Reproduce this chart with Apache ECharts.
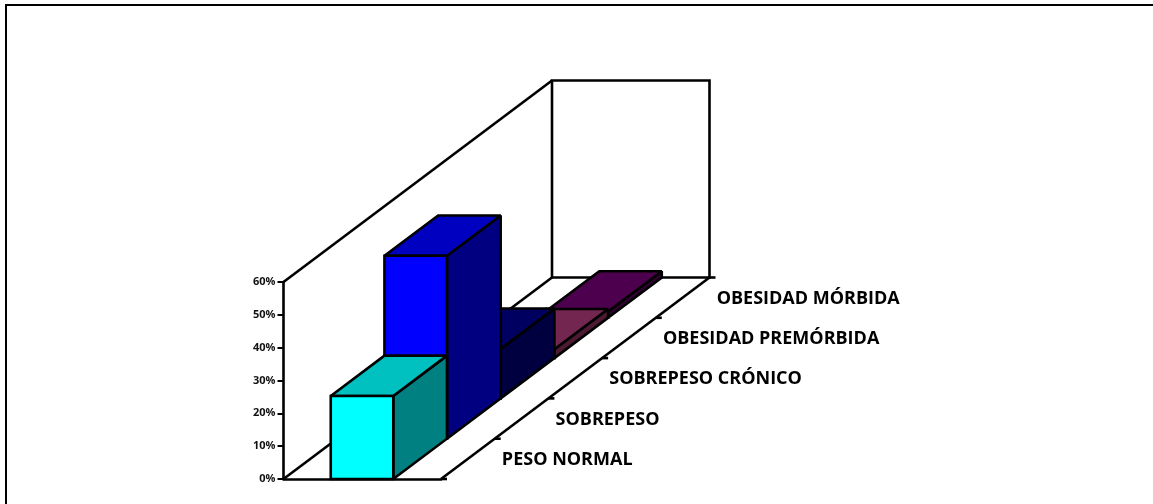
<!DOCTYPE html>
<html>
<head>
<meta charset="utf-8">
<style>html,body{margin:0;padding:0;background:#fff}#chart{width:1153px;height:504px}</style>
<script src="https://cdn.jsdelivr.net/npm/echarts@6/dist/echarts.min.js"></script>
</head>
<body>
<div id="chart"></div>
<script>
// Share of patients per weight class (percent)
const categories = ['PESO NORMAL', 'SOBREPESO', 'SOBREPESO CRÓNICO', 'OBESIDAD PREMÓRBIDA', 'OBESIDAD MÓRBIDA'];
const shares = [25.3, 55.7, 15.1, 2.7, 1.9];
const frontColors = ['#00ffff', '#0000ff', '#000080', '#993366', '#660066'];
const topColors = ['#00c0c0', '#0000c0', '#000060', '#732650', '#4d004d'];
const sideColors = ['#008080', '#000080', '#000040', '#4d1a33', '#330033'];

// Oblique projection: one category step moves this far on screen
const stepX = 53.7, stepY = -40.3;
const depthSteps = categories.length;
const barStart = 0.3, barEnd = 0.697;
const yMax = 60;
const ink = {stroke: '#000', lineWidth: 2.6, lineJoin: 'miter', miterLimit: 2};

function projector(api) {
  return function (x, v, d) {
    const p = api.coord([x, v]);
    return [p[0] + d * stepX, p[1] + d * stepY];
  };
}
function poly(points, fill) {
  return {type: 'polygon', shape: {points}, style: Object.assign({fill}, ink)};
}
function line(a, b) {
  return {type: 'line', shape: {x1: a[0], y1: a[1], x2: b[0], y2: b[1]}, style: Object.assign({fill: null}, ink)};
}

// Side wall, floor, back wall and the ticks of the depth axis
function renderFrame(params, api) {
  const P = projector(api);
  const children = [
    poly([P(0, 0, depthSteps), P(1, 0, depthSteps), P(1, yMax, depthSteps), P(0, yMax, depthSteps)], '#fff'),
    line(P(0, yMax, 0), P(0, yMax, depthSteps)),
    line(P(0, 0, 0), P(0, 0, depthSteps)),
    line(P(1, 0, 0), P(1, 0, depthSteps))
  ];
  for (let d = 0; d <= depthSteps; d++) {
    const p = P(1, 0, d);
    children.push(line(p, [p[0] + 6, p[1]]));
  }
  return {type: 'group', children};
}

// One block: back-to-front order comes from the reversed rows
function renderBar(params, api) {
  const P = projector(api);
  const i = api.value(0), v = api.value(1);
  return {type: 'group', children: [
    poly([P(barEnd, 0, i), P(barEnd, 0, i + 1), P(barEnd, v, i + 1), P(barEnd, v, i)], sideColors[i]),
    poly([P(barStart, v, i), P(barEnd, v, i), P(barEnd, v, i + 1), P(barStart, v, i + 1)], topColors[i]),
    poly([P(barStart, 0, i), P(barEnd, 0, i), P(barEnd, v, i), P(barStart, v, i)], frontColors[i])
  ]};
}

// Category names beside the depth axis
function renderNames(params, api) {
  const P = projector(api);
  const i = api.value(0);
  const p = P(1, 0, i + 0.5);
  return {type: 'text', x: p[0] + 34, y: p[1] + 1, style: {
    text: categories[i], fill: '#000', font: 'bold 18px "Open Sans", sans-serif',
    align: 'left', verticalAlign: 'middle'
  }};
}

const barRows = shares.map((v, i) => [i, v]).reverse();
const nameRows = categories.map((c, i) => [i, 0]);

const chart = echarts.init(document.getElementById('chart'), null, {renderer: 'canvas'});
chart.setOption({
  animation: false,
  backgroundColor: '#fff',
  graphic: [{
    type: 'polyline', silent: true,
    shape: {points: [[6, 504], [6, 5], [1153, 5]]},
    style: {stroke: '#000', lineWidth: 2, fill: null}
  }],
  grid: {left: 283.5, top: 282, width: 157.5, height: 197, containLabel: false},
  xAxis: {
    type: 'value', min: 0, max: 1, z: 1,
    axisLine: {show: true, onZero: false, lineStyle: {color: '#000', width: 2.6}},
    axisTick: {show: false}, axisLabel: {show: false}, splitLine: {show: false}
  },
  yAxis: {
    type: 'value', min: 0, max: yMax, interval: 10,
    axisLine: {show: true, lineStyle: {color: '#000', width: 2.6}},
    axisTick: {show: true, length: 6, lineStyle: {color: '#000', width: 2}},
    axisLabel: {formatter: '{value}%', color: '#111', fontSize: 11, fontWeight: 'bold',
      fontFamily: '"Open Sans", sans-serif', margin: 8},
    splitLine: {show: false}
  },
  series: [
    {type: 'custom', name: 'frame', silent: true, clip: false, z: 1, renderItem: renderFrame, data: [[0, 0]]},
    {type: 'custom', name: 'share', silent: true, clip: false, z: 3, renderItem: renderBar, data: barRows,
      encode: {x: 0, y: 1}},
    {type: 'custom', name: 'names', silent: true, clip: false, z: 4, renderItem: renderNames, data: nameRows}
  ]
});
</script>
</body>
</html>
